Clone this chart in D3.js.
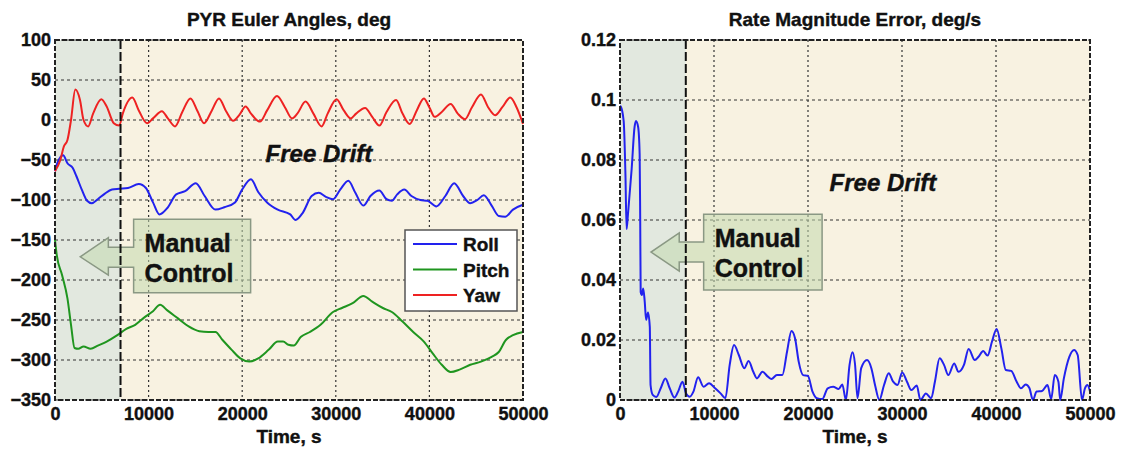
<!DOCTYPE html>
<html>
<head>
<meta charset="utf-8">
<script src="https://cdn.jsdelivr.net/npm/d3@7"></script>
<style>
  body { margin: 0; background: #fff; }
  svg text { font-family: "Liberation Sans", Arial, sans-serif; font-weight: bold; fill: #111; stroke: #111; stroke-width: 0.4; }
</style>
</head>
<body>
<svg id="chart" width="1128" height="449"></svg>
<script>
/* temps (s) et valeurs */
const manualEnd = 7000

const rollT = [0,250,870,1330,1900,2280,2860,3430,3920,4570,5330,6090,6860,7800,8950,9710,10470,11160,12000,12950,13900,15040,15990,17140,18090,19230,19990,20940,21710,22660,23800,25130,25700,26470,27420,28180,28940,29700,30470,31340,32090,32940,33700,34650,35420,35990,36560,37320,38080,39030,39800,40750,41700,42650,43600,44360,45120,45810,46650,47410,48100,48930,50000]
const rollV = [-64,-54,-44,-54,-60,-70,-87,-101,-104,-99,-92,-87,-86,-85,-80,-85,-103,-118,-110,-93,-89,-79,-95,-112,-109,-103,-87,-74,-90,-103,-112,-118,-125,-116,-95,-91,-96,-99,-87,-76,-91,-107,-95,-88,-99,-101,-93,-87,-95,-100,-101,-108,-95,-79,-95,-104,-100,-94,-107,-120,-121,-112,-106]

const pitchT = [0,190,760,1330,1710,2090,2480,3050,3810,4570,5520,6660,7620,8570,9520,10470,11230,12000,13140,14280,15420,16380,17140,17900,18850,19800,20750,21710,22850,23800,24370,24940,25510,26280,27230,28370,29700,30660,31800,32940,33890,35030,35990,37130,38270,39410,40370,41320,42270,43220,44360,45510,46650,47410,48170,48930,50000]
const pitchV = [-150,-169,-194,-223,-256,-285,-286,-283,-286,-282,-277,-269,-261,-256,-247,-239,-231,-238,-248,-258,-264,-265,-265,-275,-287,-298,-302,-298,-287,-277,-277,-281,-282,-271,-265,-256,-240,-235,-229,-220,-227,-235,-240,-252,-265,-277,-292,-306,-315,-312,-306,-302,-296,-290,-275,-269,-265]

const yawT = [0,570,950,1330,1710,2170,2670,3050,3540,4070,4950,5520,6280,6860,7240,8260,8950,9830,10470,11420,12060,12830,13600,14470,15230,15920,16760,17520,18280,19040,19680,20370,20940,21900,22660,23720,24560,25320,25890,26770,27610,28480,29130,30080,30850,31600,32170,33130,33890,34650,35420,36440,37130,37890,38650,39410,39990,40560,41320,42270,43030,43790,44550,45510,46270,47030,47790,48630,49310,50000]
const yawV = [-64,-50,-33,-25,0,38,25,0,-8,8,26,17,-4,-7,8,28,12,-4,2,11,2,-8,10,27,11,-4,12,27,11,-1,6,17,8,-2,12,30,16,2,8,23,8,-8,8,26,12,2,8,15,4,-7,10,25,8,-5,12,27,16,4,10,20,8,1,16,32,16,6,16,28,16,-5]

const rateT = [0,80,390,580,700,850,1240,1550,1700,1930,2090,2150,2200,2330,2470,2630,2780,2980,3170,3250,3480,3860,4330,4830,5290,5800,6180,6650,7030,7420,7810,8310,8890,9470,10120,10700,11210,11670,12130,12640,13220,13680,14180,14570,15150,15730,16110,16690,17270,17770,18240,18620,19010,19480,19980,20480,20940,21520,22100,22680,23260,23650,24030,24420,24730,25000,25270,25660,26280,26740,27130,27590,28090,28590,29060,29520,30020,30530,30990,31570,31960,32540,33110,33500,34000,34470,34930,35550,36010,36590,37090,37750,38140,38640,39100,39570,40070,40570,41040,41620,42200,42660,43160,43550,43930,44320,44900,45480,45870,46250,46640,46830,47220,47800,48300,48690,49150,49460,49730,50000]
const rateV = [0.098,0.0978,0.093,0.075,0.057,0.062,0.077,0.091,0.093,0.091,0.082,0.06,0.036,0.035,0.0372,0.0328,0.0267,0.0292,0.0244,0.005,0.0017,0.001,0.0039,0.0072,0.0039,0.0008,0.0028,0.0061,0.0022,0.0011,0.0028,0.0076,0.0044,0.0056,0.0039,0.0022,0.0006,0.0117,0.0183,0.015,0.0106,0.013,0.0094,0.0072,0.0094,0.0078,0.007,0.0083,0.0083,0.0161,0.023,0.0206,0.0128,0.0083,0.0081,0.0028,0.0006,0.0003,0.0039,0.0044,0.0037,0.0052,0,0.0117,0.0159,0.012,0.0006,0.0106,0.0133,0.0106,0.005,0,0.005,0.0089,0.0061,0.005,0.0092,0.0061,0.0033,0.0048,0,0.0022,0.0006,0.0061,0.0139,0.0117,0.0083,0.0122,0.0094,0.0117,0.017,0.0133,0.0144,0.0163,0.0148,0.0194,0.0237,0.0172,0.01,0.0097,0.0061,0.0039,0.0052,0.004,0,0.0028,0.003,0.005,0.0003,0.0083,0.0061,0,0.0072,0.0144,0.0167,0.015,0,0.0039,0.005,0.0028]

const xTicks = [0,10000,20000,30000,40000,50000]
const leftYTicks = [100,50,0,-50,-100,-150,-200,-250,-300,-350]
const rightYTicks = [0.12,0.1,0.08,0.06,0.04,0.02,0]

const legendNames = ['Roll','Pitch','Yaw']
const legendColors = ['#2222ee','#1f951f','#ee2222']

const svg = d3.select('#chart')

/* dessine un panneau complet */
const drawPanel = (opt) => {
  const x = d3.scaleLinear().domain([0,50000]).range([opt.left, opt.right])
  const y = d3.scaleLinear().domain(opt.yDomain).range([400, 40])
  const g = svg.append('g')

  /* fonds */
  g.append('rect').attr('x', x(manualEnd)).attr('y', y.range()[1])
    .attr('width', x(50000) - x(manualEnd)).attr('height', 360).attr('fill', '#f8f2e1')
  g.append('rect').attr('x', x(0)).attr('y', y.range()[1])
    .attr('width', x(manualEnd) - x(0)).attr('height', 360).attr('fill', '#e2e8df')

  /* grille */
  g.selectAll('.hg').data(opt.yTicks).enter().append('line')
    .attr('x1', x(0)).attr('x2', x(50000))
    .attr('y1', d => y(d)).attr('y2', d => y(d))
    .attr('stroke', '#333').attr('stroke-width', 1.2).attr('stroke-dasharray', '3,3')
  g.selectAll('.vg').data(xTicks.slice(1, -1)).enter().append('line')
    .attr('x1', d => x(d)).attr('x2', d => x(d))
    .attr('y1', 40).attr('y2', 400)
    .attr('stroke', '#333').attr('stroke-width', 1.2).attr('stroke-dasharray', '2,3')

  /* annotation fleche */
  const c = opt.callout
  const pts = [[c.bx0, c.by0],[c.bx1, c.by0],[c.bx1, c.by1],[c.bx0, c.by1],[c.bx0, c.sy1],[c.hx, c.sy1],[c.hx, c.hy1],[c.tx, c.ty],[c.hx, c.hy0],[c.hx, c.sy0],[c.bx0, c.sy0]]
  g.append('path')
    .attr('d', d3.line().x(p => x(p[0])).y(p => y(p[1]))(pts) + 'Z')
    .attr('fill', '#c3d9ae').attr('fill-opacity', 0.55)
    .attr('stroke', '#8a9884').attr('stroke-width', 1.5)

  /* courbes */
  opt.series.forEach(s => {
    g.append('path')
      .datum(s.t.map((t, i) => [t, s.v[i]]))
      .attr('fill', 'none').attr('stroke', s.color).attr('stroke-width', 2)
      .attr('d', d3.line().x(d => x(d[0])).y(d => y(d[1])).curve(d3.curveMonotoneX))
  })

  /* limite commande manuelle */
  g.append('line').attr('x1', x(manualEnd)).attr('x2', x(manualEnd)).attr('y1', 40).attr('y2', 400)
    .attr('stroke', '#111').attr('stroke-width', 2).attr('stroke-dasharray', '9,3')

  /* cadre */
  g.append('rect').attr('x', x(0)).attr('y', 40).attr('width', x(50000) - x(0)).attr('height', 360)
    .attr('fill', 'none').attr('stroke', '#222').attr('stroke-width', 2).attr('stroke-dasharray', '5,2')

  /* axes */
  const ax = g.append('g').attr('transform', 'translate(0,400)')
    .call(d3.axisBottom(x).tickValues(xTicks).tickSize(0).tickPadding(7).tickFormat(d3.format('d')))
  const ay = g.append('g').attr('transform', 'translate(' + opt.left + ',0)')
    .call(d3.axisLeft(y).tickValues(opt.yTicks).tickSize(0).tickPadding(4).tickFormat(opt.fmt))
  ;[ax, ay].forEach(a => {
    a.select('.domain').remove()
    a.selectAll('text').style('font-size', '18px').attr('fill', '#111')
      .style('font-family', '"Liberation Sans", Arial, sans-serif').style('font-weight', 'bold')
  })

  /* textes */
  g.append('text').attr('x', (opt.left + opt.right) / 2).attr('y', 26).attr('text-anchor', 'middle')
    .style('font-size', '19px').text(opt.title)
  g.append('text').attr('x', (opt.left + opt.right) / 2).attr('y', 443).attr('text-anchor', 'middle')
    .style('font-size', '19px').text('Time, s')
  g.append('text').attr('x', x(opt.drift[0])).attr('y', y(opt.drift[1]))
    .style('font-size', '24px').style('font-style', 'italic').text('Free Drift')
  g.append('text').attr('x', x(c.bx0) + 11).attr('y', y(c.by0) + 33)
    .style('font-size', '25px').text('Manual')
  g.append('text').attr('x', x(c.bx0) + 11).attr('y', y(c.by0) + 63)
    .style('font-size', '25px').text('Control')
  return g
}

const left = drawPanel({
  left: 55, right: 523, yDomain: [-350, 100], yTicks: leftYTicks, fmt: d3.format('d'),
  title: 'PYR Euler Angles, deg', drift: [22500, -52],
  callout: {bx0: 8400, bx1: 20900, by0: -124, by1: -216, sy0: -159, sy1: -184, hx: 5700, hy0: -147, hy1: -194, tx: 2700, ty: -171},
  series: [
    {t: rollT, v: rollV, color: legendColors[0]},
    {t: pitchT, v: pitchV, color: legendColors[1]},
    {t: yawT, v: yawV, color: legendColors[2]}
  ]
})

drawPanel({
  left: 620, right: 1090, yDomain: [0, 0.12], yTicks: rightYTicks, fmt: d => d === 0 ? '0' : String(d),
  title: 'Rate Magnitude Error, deg/s', drift: [22300, 0.0696],
  callout: {bx0: 8900, bx1: 21500, by0: 0.0619, by1: 0.0367, sy0: 0.0527, sy1: 0.046, hx: 6300, hy0: 0.0557, hy1: 0.043, tx: 3300, ty: 0.0493},
  series: [{t: rateT, v: rateV, color: legendColors[0]}]
})

/* legende */
const leg = left.append('g').attr('transform', 'translate(405,230)')
leg.append('rect').attr('width', 112).attr('height', 81).attr('fill', '#fff').attr('stroke', '#555').attr('stroke-width', 1.5)
legendNames.forEach((n, i) => {
  const yy = 14 + i * 25.5
  leg.append('line').attr('x1', 8).attr('x2', 52).attr('y1', yy).attr('y2', yy)
    .attr('stroke', legendColors[i]).attr('stroke-width', 2)
  leg.append('text').attr('x', 58).attr('y', yy + 7).style('font-size', '19px').text(n)
})
</script>
</body>
</html>
